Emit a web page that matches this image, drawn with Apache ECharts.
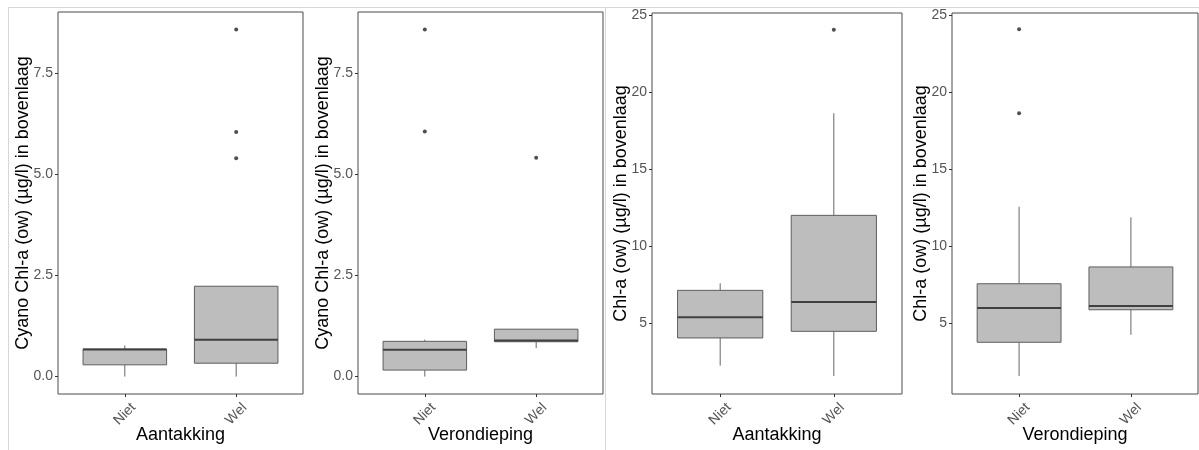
<!DOCTYPE html>
<html>
<head>
<meta charset="utf-8">
<script src="https://cdn.jsdelivr.net/npm/echarts@6/dist/echarts.min.js"></script>
<style>
html,body{margin:0;padding:0;background:#fff;}
#chart{width:1199px;height:450px;}
</style>
</head>
<body>
<div id="chart"></div>
<script>
// ---- Data ----
const categories = ['Niet', 'Wel'];

// box stats: [lower whisker, Q1, median, Q3, upper whisker]
const cyanoAantakkingStats = [[0.0, 0.29, 0.67, 0.68, 0.77], [0.0, 0.33, 0.91, 2.23, 2.23]];
const cyanoAantakkingOutliers = [['Wel', 8.57], ['Wel', 6.04], ['Wel', 5.39]];

const cyanoVerondiepingStats = [[0.0, 0.16, 0.66, 0.87, 0.91], [0.70, 0.86, 0.89, 1.17, 1.17]];
const cyanoVerondiepingOutliers = [['Niet', 8.57], ['Niet', 6.05], ['Wel', 5.40]];

const chlAantakkingStats = [[2.25, 4.05, 5.39, 7.14, 7.60], [1.58, 4.48, 6.38, 12.01, 18.64]];
const chlAantakkingOutliers = [['Wel', 24.07]];

const chlVerondiepingStats = [[1.58, 3.77, 5.99, 7.57, 12.57], [4.26, 5.88, 6.12, 8.66, 11.88]];
const chlVerondiepingOutliers = [['Niet', 24.09], ['Niet', 18.64]];

const cyanoTicks = [0, 2.5, 5, 7.5];
const chlTicks = [5, 10, 15, 20, 25];

const cyanoTitle = 'Cyano Chl-a (ow) (µg/l) in bovenlaag';
const chlTitle = 'Chl-a (ow) (µg/l) in bovenlaag';
const xTitles = ['Aantakking', 'Verondieping', 'Aantakking', 'Verondieping'];

// ---- Build ----
const panels = [
  {stats: cyanoAantakkingStats, outliers: cyanoAantakkingOutliers, ticks: cyanoTicks, yTitle: cyanoTitle, ymin: -0.43, ymax: 9.0, dec: 1,
   grid: {left: 58, top: 12, width: 245, height: 382}, nameGap: 26},
  {stats: cyanoVerondiepingStats, outliers: cyanoVerondiepingOutliers, ticks: cyanoTicks, yTitle: cyanoTitle, ymin: -0.43, ymax: 9.0, dec: 1,
   grid: {left: 358, top: 12, width: 245, height: 382}, nameGap: 26},
  {stats: chlAantakkingStats, outliers: chlAantakkingOutliers, ticks: chlTicks, yTitle: chlTitle, ymin: 0.41, ymax: 25.15, dec: 0,
   grid: {left: 652, top: 13, width: 250, height: 381}, nameGap: 22},
  {stats: chlVerondiepingStats, outliers: chlVerondiepingOutliers, ticks: chlTicks, yTitle: chlTitle, ymin: 0.41, ymax: 25.15, dec: 0,
   grid: {left: 952, top: 13, width: 246, height: 381}, nameGap: 22}
];

const FONT = '"Liberation Sans", Arial, sans-serif';
const catPositions = categories.map((c, i) => i + 1);

const grids = [], xAxes = [], yAxes = [], series = [];
panels.forEach((p, i) => {
  grids.push(Object.assign({show: true, borderColor: '#4a4a4a', borderWidth: 1, backgroundColor: 'transparent',
    containLabel: false, outerBoundsMode: 'none'}, p.grid));
  xAxes.push({
    type: 'value', gridIndex: i, min: 0.4, max: 2.6, position: 'bottom',
    name: xTitles[i], nameLocation: 'middle', nameGap: 32, nameMoveOverlap: false,
    nameTextStyle: {fontFamily: FONT, fontSize: 18, color: '#000'},
    axisLine: {show: false, onZero: false},
    splitLine: {show: false},
    axisTick: {show: true, length: 3, lineStyle: {color: '#333'}, customValues: catPositions},
    axisLabel: {
      customValues: catPositions, rotate: 45, align: 'center', verticalAlign: 'middle', margin: 20,
      fontFamily: FONT, fontSize: 14, color: '#555', hideOverlap: false,
      formatter: v => categories[Math.round(v) - 1] || ''
    }
  });
  yAxes.push({
    type: 'value', gridIndex: i, min: p.ymin, max: p.ymax, position: 'left',
    name: p.yTitle, nameLocation: 'middle', nameGap: p.nameGap, nameMoveOverlap: false,
    nameTextStyle: {fontFamily: FONT, fontSize: 18, color: '#000'},
    axisLine: {show: false, onZero: false},
    splitLine: {show: false},
    axisTick: {show: true, length: 3, lineStyle: {color: '#333'}, customValues: p.ticks},
    axisLabel: {
      customValues: p.ticks, margin: 5, fontFamily: FONT, fontSize: 14, color: '#555', hideOverlap: false,
      formatter: v => v.toFixed(p.dec)
    }
  });
  series.push({
    type: 'custom', xAxisIndex: i, yAxisIndex: i,
    data: p.stats.map((s, k) => [catPositions[k]].concat(s)),
    encode: {x: 0, y: [1, 2, 3, 4, 5]},
    renderItem: (params, api) => {
      const x = api.value(0);
      const lo = api.coord([x, api.value(1)]);
      const q1 = api.coord([x, api.value(2)]);
      const med = api.coord([x, api.value(3)]);
      const q3 = api.coord([x, api.value(4)]);
      const hi = api.coord([x, api.value(5)]);
      const hw = api.size([0.75, 0])[0] / 2;
      const cx = q1[0];
      return {
        type: 'group',
        children: [
          {type: 'line', shape: {x1: cx, y1: q3[1], x2: cx, y2: hi[1]}, style: {stroke: '#666', lineWidth: 1}},
          {type: 'line', shape: {x1: cx, y1: q1[1], x2: cx, y2: lo[1]}, style: {stroke: '#666', lineWidth: 1}},
          {type: 'rect', shape: {x: cx - hw, y: q3[1], width: hw * 2, height: q1[1] - q3[1]},
           style: {fill: '#bdbdbd', stroke: '#5e5e5e', lineWidth: 1}},
          {type: 'line', shape: {x1: cx - hw, y1: med[1], x2: cx + hw, y2: med[1]}, style: {stroke: '#404040', lineWidth: 2}}
        ]
      };
    },
    silent: true
  });
  series.push({
    type: 'scatter', xAxisIndex: i, yAxisIndex: i,
    data: p.outliers.map(o => [catPositions[categories.indexOf(o[0])], o[1]]),
    symbolSize: 4, itemStyle: {color: '#222'}, silent: true
  });
});

const chart = echarts.init(document.getElementById('chart'), null, {renderer: 'canvas'});
chart.setOption({
  animation: false,
  backgroundColor: '#fff',
  grid: grids,
  xAxis: xAxes,
  yAxis: yAxes,
  series: series,
  graphic: [
    {type: 'line', shape: {x1: 8, y1: 7.5, x2: 1199, y2: 7.5}, style: {stroke: '#d6d6d6', lineWidth: 1}, silent: true},
    {type: 'line', shape: {x1: 8.5, y1: 7.5, x2: 8.5, y2: 450}, style: {stroke: '#d6d6d6', lineWidth: 1}, silent: true},
    {type: 'line', shape: {x1: 605.5, y1: 7.5, x2: 605.5, y2: 450}, style: {stroke: '#d6d6d6', lineWidth: 1}, silent: true}
  ]
});
</script>
</body>
</html>
